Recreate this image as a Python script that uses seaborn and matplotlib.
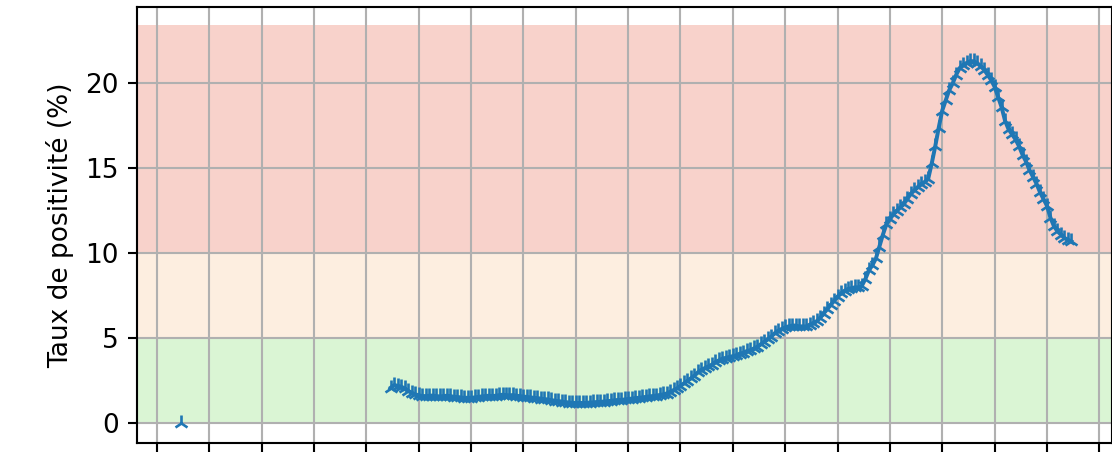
import numpy as np
import pandas as pd
import matplotlib
matplotlib.use("Agg")
import matplotlib.pyplot as plt
import seaborn as sns

### data: daily positivity rate (%), x = day index
first_day = [7]
first_val = [0.0]

days = list(range(67, 263))
taux = [
    2.1, 2.25, 2.2, 2.15, 2.05, 1.9, 1.8, 1.7, 1.65, 1.6,
    1.6, 1.62, 1.63, 1.6, 1.58, 1.6, 1.62, 1.6, 1.56, 1.55,
    1.52, 1.5, 1.5, 1.5, 1.52, 1.55, 1.58, 1.6, 1.62, 1.6,
    1.62, 1.65, 1.68, 1.66, 1.64, 1.66, 1.62, 1.6, 1.57, 1.55,
    1.52, 1.5, 1.48, 1.45, 1.42, 1.4, 1.36, 1.33, 1.3, 1.28,
    1.25, 1.22, 1.2, 1.2, 1.19, 1.2, 1.2, 1.22, 1.23, 1.25,
    1.26, 1.28, 1.3, 1.32, 1.35, 1.37, 1.38, 1.4, 1.43, 1.45,
    1.48, 1.5, 1.52, 1.55, 1.58, 1.6, 1.63, 1.66, 1.7, 1.75,
    1.85, 1.95, 2.05, 2.2, 2.35, 2.5, 2.65, 2.8, 3.0, 3.15,
    3.25, 3.35, 3.45, 3.6, 3.7, 3.8, 3.85, 3.9, 3.95, 4.0,
    4.1, 4.15, 4.25, 4.3, 4.4, 4.5, 4.65, 4.8, 4.95, 5.1,
    5.3, 5.45, 5.55, 5.65, 5.7, 5.75, 5.75, 5.7, 5.7, 5.7,
    5.8, 5.9, 6.0, 6.2, 6.45, 6.7, 6.95, 7.2, 7.45, 7.65,
    7.8, 7.9, 7.95, 8.0, 8.0, 8.1, 8.5, 9.0, 9.3, 9.7,
    10.4, 11.1, 11.7, 12.0, 12.3, 12.5, 12.7, 12.9, 13.2, 13.5,
    13.7, 13.9, 14.1, 14.2, 14.4, 15.3, 16.3, 17.4, 18.4, 19.0,
    19.6, 20.0, 20.5, 20.9, 21.1, 21.2, 21.3, 21.3, 21.2, 21.0,
    20.8, 20.5, 20.2, 19.8, 19.2, 18.6, 17.8, 17.3, 17.0, 16.7,
    16.3, 15.8, 15.4, 14.9, 14.5, 14.1, 13.6, 13.2, 12.8, 12.1,
    11.6, 11.3, 11.1, 10.9, 10.8, 10.7,
]

# seuils des zones de couleur
seuils = [0, 5, 10]
zone_colors = ["#daf5d4", "#fdeee0", "#f8d2cb"]

df = pd.DataFrame({"jour": days, "taux": taux})
df0 = pd.DataFrame({"jour": first_day, "taux": first_val})

DPI = 190
fig = plt.figure(figsize=(1112 / DPI, 453 / DPI), dpi=DPI)
ax = fig.add_axes([137 / 1112, 10 / 453, 974.5 / 1112, 436 / 453])

top = max(taux) * 1.1
bounds = seuils + [top]
for i in range(len(seuils)):
    ax.axhspan(bounds[i], bounds[i + 1], color=zone_colors[i], lw=0, zorder=0)

line_kw = dict(color="#1f77b4", marker="2", markersize=6, markeredgewidth=1.0,
               markeredgecolor="#1f77b4", linewidth=1.5)
sns.lineplot(data=df0, x="jour", y="taux", ax=ax, **line_kw)
sns.lineplot(data=df, x="jour", y="taux", ax=ax, **line_kw)

ax.set_xlim(-5.73, 273.5)
ax.set_ylim(-1.16, 24.49)
ax.set_xticks(np.arange(0, 271, 15))
ax.set_yticks([0, 5, 10, 15, 20])
ax.tick_params(axis="x", labelbottom=False)
ax.grid(True, color="#b0b0b0", linewidth=0.8)
ax.set_xlabel("")
ax.set_ylabel("Taux de positivité (%)")

fig.savefig("out.png", dpi=DPI)
